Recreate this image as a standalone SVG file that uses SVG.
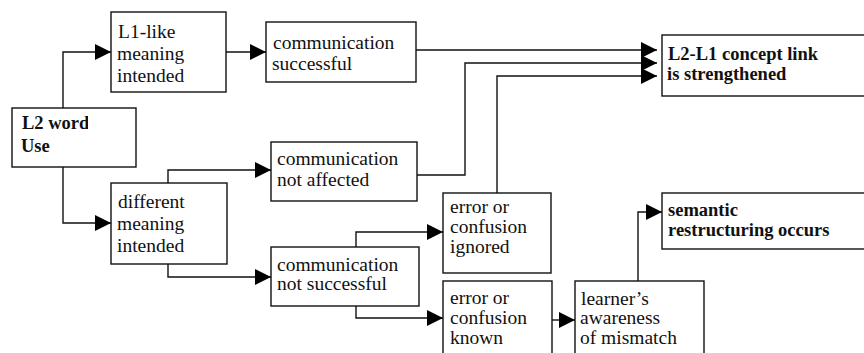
<svg xmlns="http://www.w3.org/2000/svg" width="864" height="353" viewBox="0 0 864 353">
  <style>
    .box { fill: #fff; stroke: #111; stroke-width: 1.4; }
    .t { font-family: "Liberation Serif", "Times New Roman", serif; font-size: 19.5px; fill: #111; }
    .b { font-weight: bold; font-size: 18.5px; }
    .link { fill: none; stroke: #111; stroke-width: 1.4; marker-end: url(#arrow); }
  </style>
  <defs>
    <marker id="arrow" markerUnits="userSpaceOnUse" markerWidth="17" markerHeight="16" refX="16" refY="8" orient="auto">
      <path d="M0,0 L16,8 L0,16 Z" fill="#000"/>
    </marker>
    <clipPath id="clipWord">
      <rect x="12" y="108" width="76" height="59"/>
    </clipPath>
  </defs>

  <g id="connectors">
    <!-- L2 word use branches -->
    <path class="link" d="M63,108 V52 H111"/>
    <path class="link" d="M63,167 V223 H111"/>
    <!-- L1-like meaning to communication successful -->
    <path class="link" d="M226,52 H266"/>
    <!-- different meaning branches -->
    <path class="link" d="M168,183 V170 H271"/>
    <path class="link" d="M168,264 V277 H271"/>
    <!-- communication not successful branches -->
    <path class="link" d="M356,247 V232 H443"/>
    <path class="link" d="M356,306 V318 H443"/>
    <!-- into concept link -->
    <path class="link" d="M416,50 H657"/>
    <path class="link" d="M417,175 H465 V63 H657"/>
    <path class="link" d="M497,193 V76 H657"/>
    <!-- error known to awareness -->
    <path class="link" d="M552,320 H575"/>
    <!-- awareness to restructuring -->
    <path class="link" d="M638,281 V212 H662"/>
  </g>

  <g id="l2-word-use">
    <rect class="box" x="12" y="108" width="124" height="59"/>
    <g clip-path="url(#clipWord)">
      <text class="t b" x="22" y="129">L2 word:</text>
    </g>
    <text class="t b" x="21" y="152">Use</text>
  </g>

  <g id="l1-like-meaning">
    <rect class="box" x="111" y="12" width="115" height="80"/>
    <text class="t" x="118" y="38">L1-like</text>
    <text class="t" x="117" y="60">meaning</text>
    <text class="t" x="117" y="82">intended</text>
  </g>

  <g id="communication-successful">
    <rect class="box" x="266" y="22" width="150" height="60"/>
    <text class="t" x="273" y="49">communication</text>
    <text class="t" x="272" y="70">successful</text>
  </g>

  <g id="concept-link-strengthened">
    <rect class="box" x="662" y="35" width="210" height="61"/>
    <text class="t b" x="668" y="60">L2-L1 concept link</text>
    <text class="t b" x="667" y="80">is strengthened</text>
  </g>

  <g id="different-meaning">
    <rect class="box" x="111" y="183" width="116" height="81"/>
    <text class="t" x="118" y="208">different</text>
    <text class="t" x="117" y="230">meaning</text>
    <text class="t" x="117" y="252">intended</text>
  </g>

  <g id="communication-not-affected">
    <rect class="box" x="271" y="142" width="146" height="59"/>
    <text class="t" x="277" y="165">communication</text>
    <text class="t" x="277" y="186">not affected</text>
  </g>

  <g id="communication-not-successful">
    <rect class="box" x="271" y="247" width="148" height="59"/>
    <text class="t" x="277" y="271">communication</text>
    <text class="t" x="277" y="290">not successful</text>
  </g>

  <g id="error-ignored">
    <rect class="box" x="443" y="193" width="108" height="80"/>
    <text class="t" x="450" y="213">error or</text>
    <text class="t" x="450" y="233">confusion</text>
    <text class="t" x="450" y="253">ignored</text>
  </g>

  <g id="error-known">
    <rect class="box" x="443" y="281" width="109" height="80"/>
    <text class="t" x="450" y="304">error or</text>
    <text class="t" x="450" y="324">confusion</text>
    <text class="t" x="450" y="344">known</text>
  </g>

  <g id="learner-awareness">
    <rect class="box" x="575" y="281" width="129" height="80"/>
    <text class="t" x="581" y="305">learner’s</text>
    <text class="t" x="580" y="324">awareness</text>
    <text class="t" x="580" y="344">of mismatch</text>
  </g>

  <g id="semantic-restructuring">
    <rect class="box" x="662" y="193" width="210" height="56"/>
    <text class="t b" x="668" y="216">semantic</text>
    <text class="t b" x="668" y="236">restructuring occurs</text>
  </g>
</svg>
